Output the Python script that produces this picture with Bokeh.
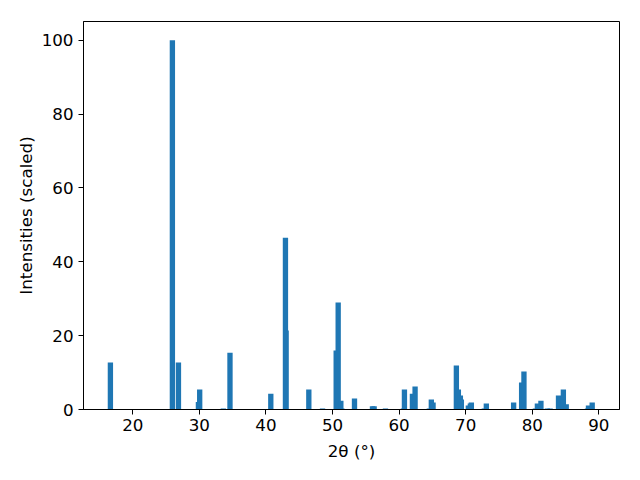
from bokeh.plotting import figure
from bokeh.models import ColumnDataSource, Range1d, FixedTicker
from bokeh.embed import file_html
from bokeh.resources import INLINE

two_theta = [16.64, 25.95, 26.86, 29.86, 30.05, 33.6, 34.6,
             40.73, 42.93, 43.03, 46.44, 48.5, 50.55, 50.85, 51.25, 51.4,
             53.3, 56.0, 56.25, 57.95, 60.65, 60.8, 62.0, 62.4,
             64.54, 64.84, 65.1, 68.6, 68.9, 69.2, 69.35,
             70.4, 70.7, 70.85, 72.8, 73.1,
             77.2, 78.4, 78.75, 80.47, 80.77, 81.3, 82.27, 82.68,
             83.94, 84.67, 85.1, 88.3, 88.44, 89.0]
intensity = [12.7, 100.0, 12.7, 2.0, 5.4, 0.3, 15.4,
             4.3, 46.5, 21.4, 5.4, 0.3, 16.0, 29.0, 2.4, 0.3,
             3.0, 0.9, 0.9, 0.3, 0.3, 5.4, 4.3, 6.2,
             0.3, 2.7, 1.9, 11.9, 5.4, 3.8, 2.7,
             1.1, 1.6, 1.9, 0.3, 1.6,
             1.9, 7.3, 10.3, 0.3, 1.6, 2.4, 0.3, 0.3,
             3.8, 5.4, 1.4, 0.3, 1.1, 1.9]

x_ticks = [20, 30, 40, 50, 60, 70, 80, 90]
y_ticks = [0, 20, 40, 60, 80, 100]

src = ColumnDataSource(dict(x=two_theta, top=intensity))

p = figure(width=624, height=464, output_backend="svg", toolbar_location=None,
           x_range=Range1d(12.6, 93.1), y_range=Range1d(0, 105.1),
           min_border_left=83, min_border_right=5, min_border_top=21,
           min_border_bottom=55)
p.vbar(x="x", top="top", bottom=0, width=0.8, source=src,
       fill_color="#1f77b4", line_color=None)

p.xgrid.visible = False
p.ygrid.visible = False
p.outline_line_color = "black"
p.outline_line_width = 1
p.outline_line_alpha = 1

for ax, ticks in ((p.xaxis, x_ticks), (p.yaxis, y_ticks)):
    ax.ticker = FixedTicker(ticks=ticks)
    ax.minor_tick_line_color = None
    ax.major_tick_in = 0
    ax.major_tick_out = 5
    ax.major_tick_line_color = "black"
    ax.axis_line_color = "black"
    ax.major_label_text_font = "DejaVu Sans"
    ax.major_label_text_font_size = "16.7px"
    ax.major_label_text_color = "black"
    ax.axis_label_text_font = "DejaVu Sans"
    ax.axis_label_text_font_size = "16.7px"
    ax.axis_label_text_font_style = "normal"
    ax.axis_label_text_color = "black"

p.xaxis.axis_label = "2θ (°)"
p.yaxis.axis_label = "Intensities (scaled)"
p.xaxis.axis_label_standoff = 7
p.yaxis.axis_label_standoff = 3
p.xaxis.major_label_standoff = 4
p.yaxis.major_label_standoff = 5

open("out.html", "w").write(file_html(p, INLINE))
